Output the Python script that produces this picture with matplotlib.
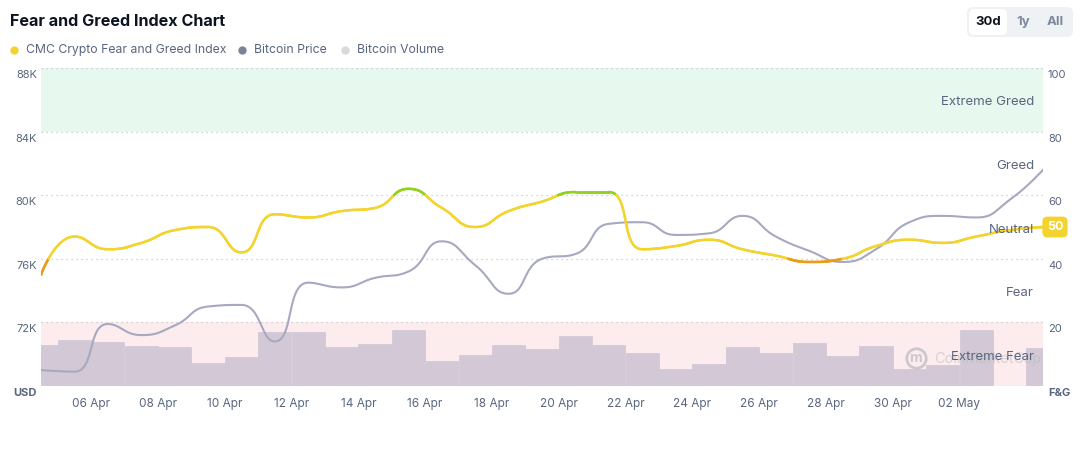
import numpy as np
import pandas as pd
import matplotlib
matplotlib.use("Agg")
import matplotlib.pyplot as plt
import matplotlib.dates as mdates
import matplotlib.transforms as mtransforms
from matplotlib.collections import LineCollection
from matplotlib.patches import FancyBboxPatch

plt.rcParams['font.family'] = ['Inter', 'DejaVu Sans']

# daily points (noon), 04 Apr -> 04 May
dates = pd.date_range('2025-04-04 12:00', periods=31, freq='D')
fear_greed = [35, 47, 43, 45, 49, 50, 42, 54, 53, 55, 56, 62, 56, 50, 55, 58,
              61, 61, 43, 44, 46, 43, 41, 39, 40, 44, 46, 45, 47, 49, 50]
# bitcoin price, thousands of USD
btc_price = [69.0, 68.9, 71.9, 71.2, 71.8, 73.0, 73.1, 70.8, 74.5, 74.2, 74.8,
             75.2, 77.1, 75.6, 73.8, 76.0, 76.3, 78.2, 78.3, 77.5, 77.6, 78.7,
             77.4, 76.5, 75.8, 76.6, 78.3, 78.7, 78.6, 79.7, 81.6]
# bitcoin volume, billions of USD (one day missing)
btc_volume = [41, 46, 44, 40, 39, 23, 29, 54, 54, 39, 42, 56, 25, 31, 41, 37,
              50, 41, 33, 17, 22, 39, 33, 43, 30, 40, 17, 21, 56, np.nan, 38]
tick_dates = pd.date_range('2025-04-06', '2025-05-02', freq='2D')
price_ticks = [68, 72, 76, 80, 84, 88]
fg_ticks = [0, 20, 40, 60, 80, 100]
zones = ['Extreme Fear', 'Fear', 'Neutral', 'Greed', 'Extreme Greed']

TXT = '#58667e'
GRID = '#c4c8d0'
BAR = '#d3c9d6'


def smooth_line(ax, xs, ys, smooth=0.5, steps=30):
    # echarts-like bezier smoothing, done in pixel space
    pts = ax.transData.transform(np.column_stack([xs, ys]))
    px, py = pts[:, 0], pts[:, 1]
    n = len(px)
    cin = pts.copy()
    cout = pts.copy()
    for i in range(1, n - 1):
        x, y = px[i], py[i]
        x0, y0, x1, y1 = px[i - 1], py[i - 1], px[i + 1], py[i + 1]
        vx, vy = (x1 - x0) * smooth, (y1 - y0) * smooth
        l0 = np.hypot(x - x0, y - y0)
        l1 = np.hypot(x1 - x, y1 - y)
        r = l1 / (l0 + l1)
        ox = np.clip(x + vx * r, min(x, x1), max(x, x1))
        oy = np.clip(y + vy * r, min(y, y1), max(y, y1))
        vx, vy = ox - x, oy - y
        ix = np.clip(x - vx * l0 / l1, min(x0, x), max(x0, x))
        iy = np.clip(y - vy * l0 / l1, min(y0, y), max(y0, y))
        vx, vy = x - ix, y - iy
        cin[i] = (ix, iy)
        cout[i] = (x + vx * l1 / l0, y + vy * l1 / l0)
    t = np.linspace(0, 1, steps)[:, None]
    out = []
    for i in range(n - 1):
        p0, p1, p2, p3 = pts[i], cout[i], cin[i + 1], pts[i + 1]
        seg = ((1 - t) ** 3) * p0 + 3 * ((1 - t) ** 2) * t * p1 + 3 * (1 - t) * t ** 2 * p2 + t ** 3 * p3
        out.append(seg if i == 0 else seg[1:])
    out = np.vstack(out)
    d = ax.transData.inverted().transform(out)
    return d[:, 0], d[:, 1]


def fg_color(v):
    if v > 60:
        return '#8fd21d'
    if v < 40:
        return '#ec9b17'
    return '#f3d42f'


W, H = 1084, 453
fig = plt.figure(figsize=(W / 100, H / 100), dpi=100)
fig.patch.set_facecolor('white')

x = mdates.date2num(dates)
ax = fig.add_axes([41 / W, 67 / H, 1002 / W, 318 / H])
ax.set_xlim(x[0], x[-1])
ax.set_ylim(0, 100)
for s in ax.spines.values():
    s.set_visible(False)
ax.axhspan(80, 100, color='#e7f8ef', lw=0, zorder=0)
ax.axhspan(0, 20, color='#fdeced', lw=0, zorder=0)
for v in fg_ticks:
    ax.axhline(v, color=GRID, lw=0.9, ls=(0, (1, 3)), zorder=1)
ax.set_yticks([])
ax.set_xticks(mdates.date2num(tick_dates))
ax.xaxis.set_major_formatter(mdates.DateFormatter('%d %b'))
ax.tick_params(axis='x', length=0, pad=9, labelsize=8.5, labelcolor=TXT)

# volume bars
axv = ax.twinx()
axv.set_ylim(0, 318)
axv.set_yticks([])
axv.bar(x, btc_volume, width=1.0, color=BAR, ec=BAR, lw=0.6, zorder=2)

# price line
axp = ax.twinx()
axp.set_ylim(price_ticks[0], price_ticks[-1])
axp.set_yticks([])
sx, sy = smooth_line(axp, x, btc_price)
axp.plot(sx, sy, color='#a6a9bf', lw=1.5, solid_capstyle='round', zorder=3)

# fear & greed line
axf = ax.twinx()
axf.set_ylim(0, 100)
axf.set_yticks([])
for a in (axv, axp, axf):
    for s in a.spines.values():
        s.set_visible(False)

fx, fy = smooth_line(axf, x, fear_greed)
segs = np.stack([np.column_stack([fx[:-1], fy[:-1]]), np.column_stack([fx[1:], fy[1:]])], axis=1)
cols = [fg_color((a + b) / 2) for a, b in zip(fy[:-1], fy[1:])]
lc = LineCollection(segs, colors=cols, linewidths=1.8, capstyle='round', zorder=4)
axf.add_collection(lc)

# axis labels (sit just under each grid line)
pblend = mtransforms.blended_transform_factory(axp.transAxes, axp.transData)
for i, p in enumerate(price_ticks):
    axp.annotate('USD' if i == 0 else '%dK' % p, xy=(0, p), xycoords=pblend,
                 xytext=(-4, -7), textcoords='offset pixels', ha='right', va='center',
                 fontsize=8, color=TXT, fontweight='bold' if i == 0 else 'normal',
                 annotation_clip=False)
blend = mtransforms.blended_transform_factory(axf.transAxes, axf.transData)
for i, v in enumerate(fg_ticks):
    axf.annotate('F&G' if i == 0 else str(v), xy=(1, v), xycoords=blend,
                 xytext=(5, -7), textcoords='offset pixels', ha='left', va='center',
                 fontsize=8, color=TXT, fontweight='bold' if i == 0 else 'normal',
                 annotation_clip=False)

# watermark
axf.text(0.891, 8.6, 'CoinMarketCap', transform=blend, ha='left', va='center',
         fontsize=10.5, color='#b9bac2', alpha=0.55, zorder=4)
axf.text(0.873, 8.8, 'm', transform=blend, ha='center', va='center',
         fontsize=10, color='#b9bac2', alpha=0.7, fontweight='bold', zorder=4)
axf.plot([0.873], [8.8], transform=blend, marker='o', ms=14, mfc='none',
         mec='#b9bac2', mew=2, alpha=0.7, zorder=4)

# zone names
for i, z in enumerate(zones):
    axf.text(0.991, 10 + 20 * i - 0.8, z, transform=blend, ha='right', va='center',
             fontsize=9.5, color=TXT, zorder=5)

# current value badge
axf.annotate(str(fear_greed[-1]), xy=(1.0, fear_greed[-1]), xycoords=blend,
             xytext=(12, 0), textcoords='offset pixels', ha='center', va='center',
             fontsize=9, fontweight='bold', color='white', zorder=6, annotation_clip=False,
             bbox=dict(boxstyle='round,pad=0.35,rounding_size=0.4', fc='#f3d42f', ec='none'))

# header: title, legend, range buttons
ov = fig.add_axes([0, 0, 1, 1], zorder=-1)
ov.set_xlim(0, W)
ov.set_ylim(H, 0)
ov.axis('off')
ov.text(10, 22, 'Fear and Greed Index Chart', fontsize=11.6, fontweight='bold',
        color='#0d1421', va='center')
legend_items = [('#f3d42f', 'CMC Crypto Fear and Greed Index', 14),
                ('#7d8297', 'Bitcoin Price', 242),
                ('#d9d9de', 'Bitcoin Volume', 345)]
for c, name, lx in legend_items:
    ov.plot([lx], [50], marker='o', ms=6, color=c, mec='none')
    ov.text(lx + 12, 50, name, fontsize=8.8, color=TXT, va='center')
ov.add_patch(FancyBboxPatch((967, 7), 106, 30, boxstyle='round,pad=0,rounding_size=6',
                            fc='#eff2f5', ec='none'))
ov.add_patch(FancyBboxPatch((969, 9), 38, 26, boxstyle='round,pad=0,rounding_size=5',
                            fc='white', ec='none'))
ov.text(988, 22, '30d', fontsize=9.5, fontweight='bold', color='#0d1421', ha='center', va='center')
ov.text(1023, 22, '1y', fontsize=9.5, fontweight='bold', color='#808a9d', ha='center', va='center')
ov.text(1055, 22, 'All', fontsize=9.5, fontweight='bold', color='#808a9d', ha='center', va='center')

fig.savefig('out.png', dpi=100)
